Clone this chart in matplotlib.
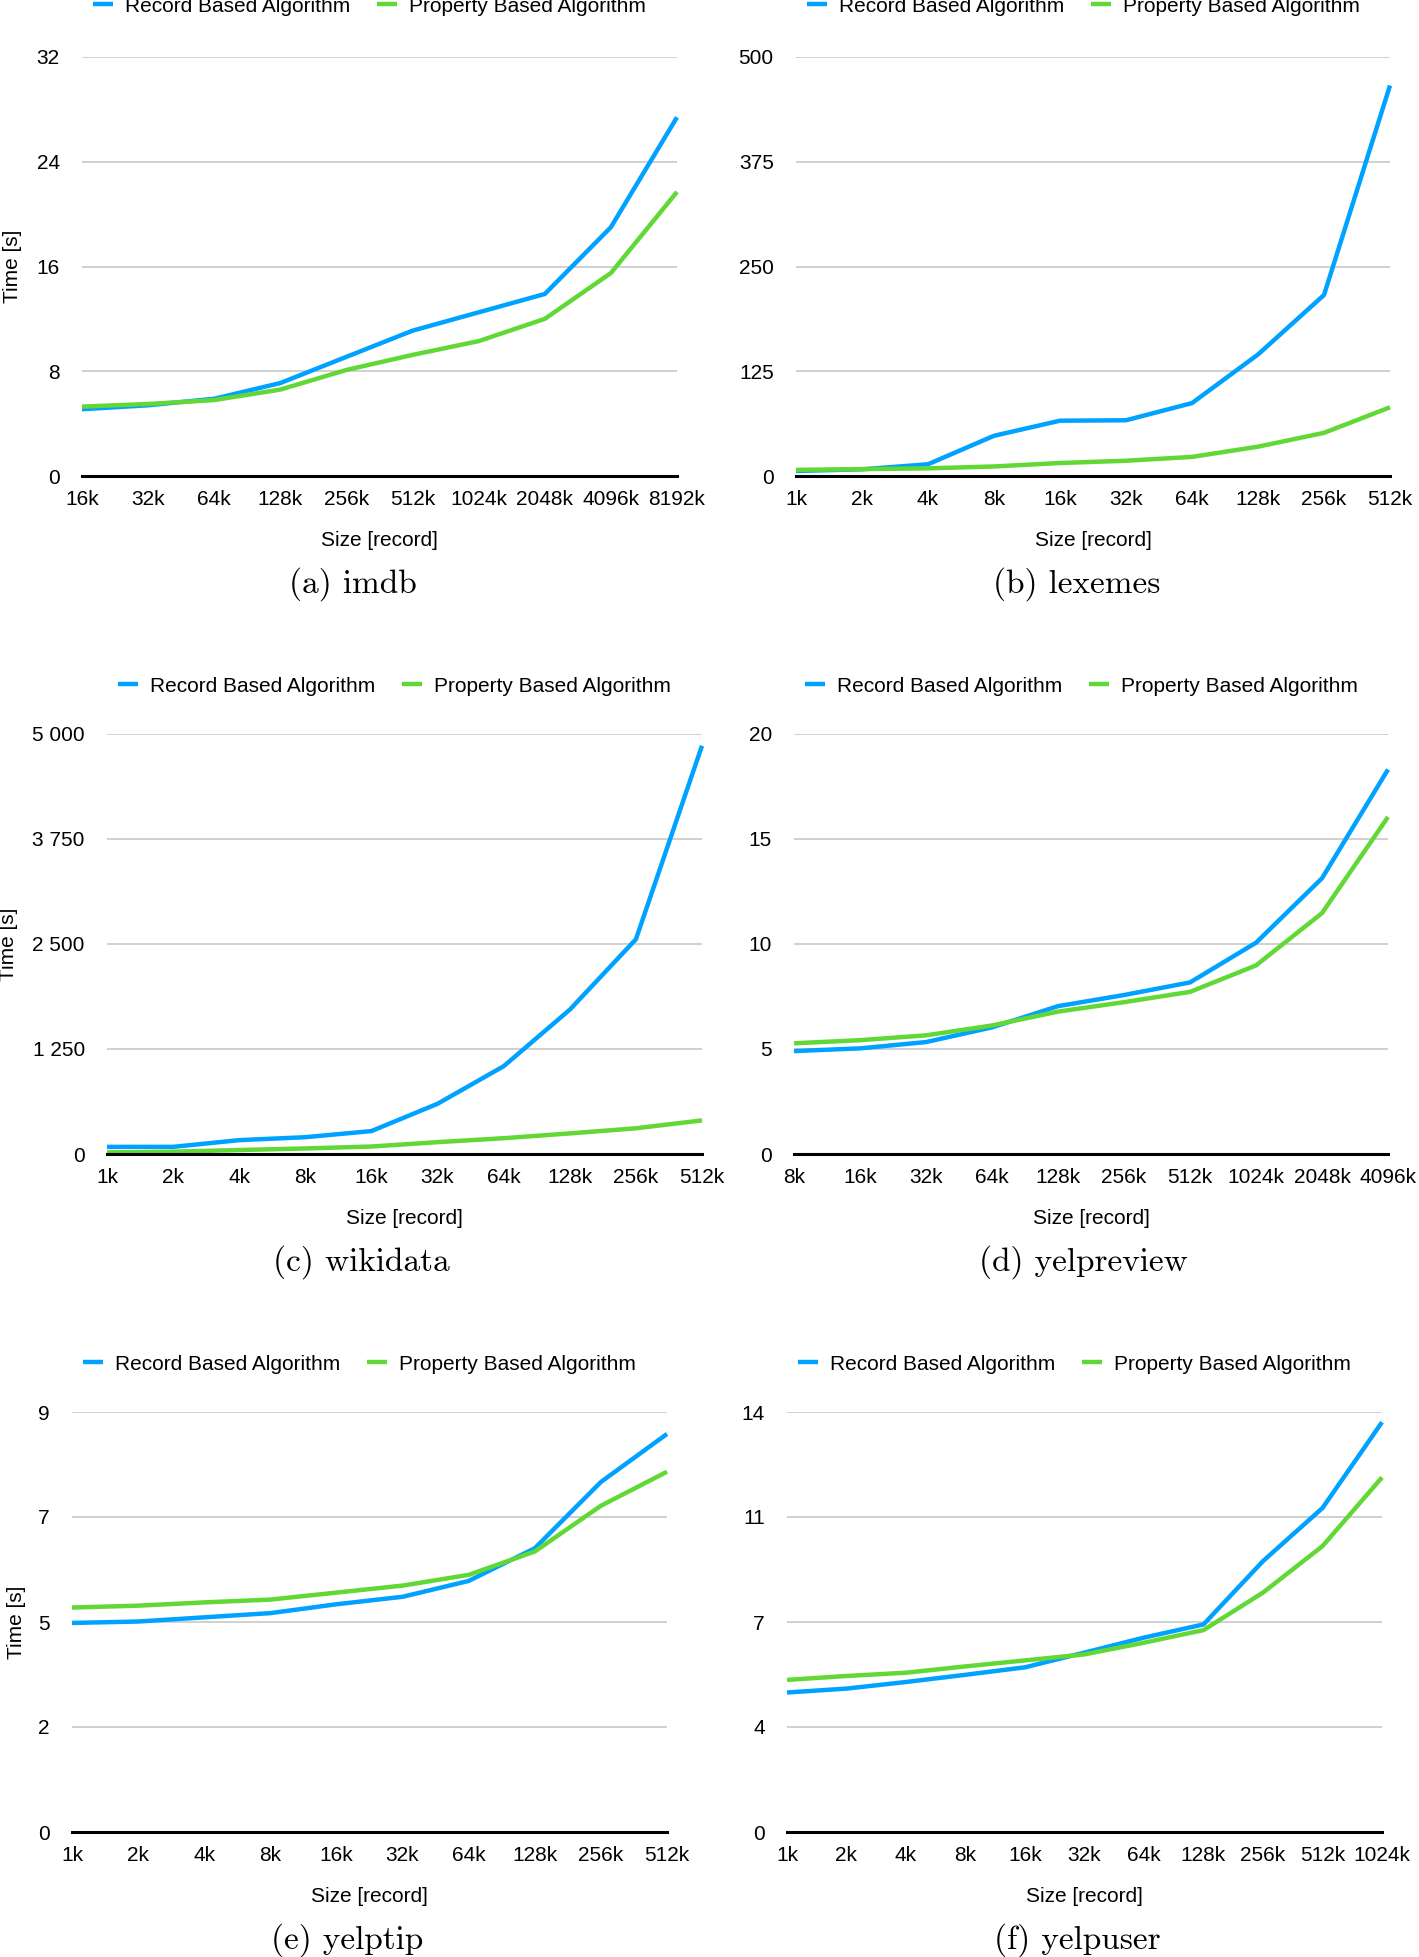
import matplotlib
matplotlib.use("Agg")
import matplotlib.pyplot as plt

plt.rcParams["font.family"] = ["Liberation Sans", "DejaVu Sans"]

# ---- data (times in seconds) ----
imdb_sizes = ["16k", "32k", "64k", "128k", "256k", "512k", "1024k", "2048k", "4096k", "8192k"]
imdb_record = [5.1, 5.4, 5.9, 7.1, 9.1, 11.1, 12.5, 13.9, 19.0, 27.4]
imdb_property = [5.3, 5.5, 5.8, 6.6, 8.1, 9.25, 10.3, 12.0, 15.5, 21.7]
imdb_yticks = ["0", "8", "16", "24", "32"]

lexemes_sizes = ["1k", "2k", "4k", "8k", "16k", "32k", "64k", "128k", "256k", "512k"]
lexemes_record = [6, 8, 14, 48, 66, 66.5, 87, 145, 216, 466]
lexemes_property = [7.3, 8.2, 9.1, 11.4, 15.5, 18.2, 22.8, 35, 51.5, 82]
lexemes_yticks = ["0", "125", "250", "375", "500"]

wikidata_sizes = ["1k", "2k", "4k", "8k", "16k", "32k", "64k", "128k", "256k", "512k"]
wikidata_record = [85, 85, 165, 200, 273, 598, 1045, 1718, 2556, 4860]
wikidata_property = [19, 28, 47, 66, 89, 141, 188, 245, 306, 400]
wikidata_yticks = ["0", "1 250", "2 500", "3 750", "5 000"]

yelpreview_sizes = ["8k", "16k", "32k", "64k", "128k", "256k", "512k", "1024k", "2048k", "4096k"]
yelpreview_record = [4.9, 5.03, 5.33, 6.03, 7.04, 7.57, 8.17, 10.06, 13.13, 18.31]
yelpreview_property = [5.27, 5.42, 5.65, 6.12, 6.78, 7.23, 7.72, 8.98, 11.47, 16.05]
yelpreview_yticks = ["0", "5", "10", "15", "20"]

yelptip_sizes = ["1k", "2k", "4k", "8k", "16k", "32k", "64k", "128k", "256k", "512k"]
yelptip_record = [4.48, 4.51, 4.6, 4.69, 4.88, 5.04, 5.38, 6.08, 7.5, 8.53]
yelptip_property = [4.81, 4.85, 4.92, 4.98, 5.13, 5.28, 5.51, 6.01, 6.99, 7.72]
yelptip_yticks = ["0", "2", "5", "7", "9"]

yelpuser_sizes = ["1k", "2k", "4k", "8k", "16k", "32k", "64k", "128k", "256k", "512k", "1024k"]
yelpuser_record = [4.65, 4.78, 5.0, 5.24, 5.49, 5.98, 6.48, 6.92, 9.03, 10.8, 13.66]
yelpuser_property = [5.07, 5.2, 5.31, 5.52, 5.72, 5.92, 6.31, 6.73, 7.98, 9.53, 11.82]
yelpuser_yticks = ["0", "4", "7", "11", "14"]

BLUE = "#00A2FF"
GREEN = "#61D836"
W, H = 1419, 1957
FS = 15

fig = plt.figure(figsize=(W / 100, H / 100), dpi=100)

# (caption, sizes, record, property, ymax, ticklabels, axes box px [x0, x1, ytop, ybot],
#  legend y px, caption x px, ylabel x px or None)
panels = [
    ("(a) imdb", imdb_sizes, imdb_record, imdb_property, 32, imdb_yticks,
     (82, 677, 57, 476), 6, 353, 13),
    ("(b) lexemes", lexemes_sizes, lexemes_record, lexemes_property, 500, lexemes_yticks,
     (796, 1390, 57, 476), 6, 1077, None),
    ("(c) wikidata", wikidata_sizes, wikidata_record, wikidata_property, 5000, wikidata_yticks,
     (107, 702, 734, 1154), 686, 361, 9),
    ("(d) yelpreview", yelpreview_sizes, yelpreview_record, yelpreview_property, 20, yelpreview_yticks,
     (794, 1388, 734, 1154), 686, 1083, None),
    ("(e) yelptip", yelptip_sizes, yelptip_record, yelptip_property, 9, yelptip_yticks,
     (72, 667, 1412, 1832), 1364, 347, 16),
    ("(f) yelpuser", yelpuser_sizes, yelpuser_record, yelpuser_property, 14, yelpuser_yticks,
     (787, 1382, 1412, 1832), 1364, 1077, None),
]

for caption, sizes, rec, prop, ymax, ylabels, box, leg_y, cap_x, ylab_x in panels:
    x0, x1, yt, yb = box
    ax = fig.add_axes([x0 / W, 1 - yb / H, (x1 - x0) / W, (yb - yt) / H])
    xs = range(len(sizes))
    ax.plot(xs, rec, color=BLUE, lw=3.2, label="Record Based Algorithm",
            solid_capstyle="butt", zorder=3, clip_on=False)
    ax.plot(xs, prop, color=GREEN, lw=3.2, label="Property Based Algorithm",
            solid_capstyle="butt", zorder=3, clip_on=False)
    ax.set_xlim(0, len(sizes) - 1)
    ax.set_ylim(0, ymax)
    ax.set_xticks(list(xs))
    ax.set_xticklabels(sizes, fontsize=FS)
    yt_vals = [ymax * i / 4 for i in range(5)]
    ax.set_yticks(yt_vals)
    ax.set_yticklabels(ylabels, fontsize=FS)
    ax.tick_params(axis="both", length=0)
    ax.tick_params(axis="y", pad=16)
    ax.tick_params(axis="x", pad=10)
    for v in yt_vals[1:]:
        ax.axhline(v, color="#c4c4c4", lw=1.1, zorder=1)
    ax.axhline(0, color="black", lw=2.2, zorder=4, clip_on=False)
    for s in ax.spines.values():
        s.set_visible(False)
    ax.set_xlabel("Size [record]", fontsize=FS, labelpad=16)
    if ylab_x is not None:
        ax.set_ylabel("Time [s]", fontsize=FS, va="center")
        ax.yaxis.set_label_coords(ylab_x / W, 1 - (yt + yb) / 2 / H, transform=fig.transFigure)
    ax.legend(loc="center left", bbox_to_anchor=((x0 + 11) / W, 1 - leg_y / H),
              bbox_transform=fig.transFigure, ncol=2, frameon=False, fontsize=FS,
              borderpad=0, borderaxespad=0, handlelength=0.95, handletextpad=0.57,
              columnspacing=1.3)
    fig.text(cap_x / W, 1 - (yb + 108) / H, caption, fontname="cmr10", fontsize=24,
             ha="center", va="center")

fig.savefig("out.png", dpi=100)
